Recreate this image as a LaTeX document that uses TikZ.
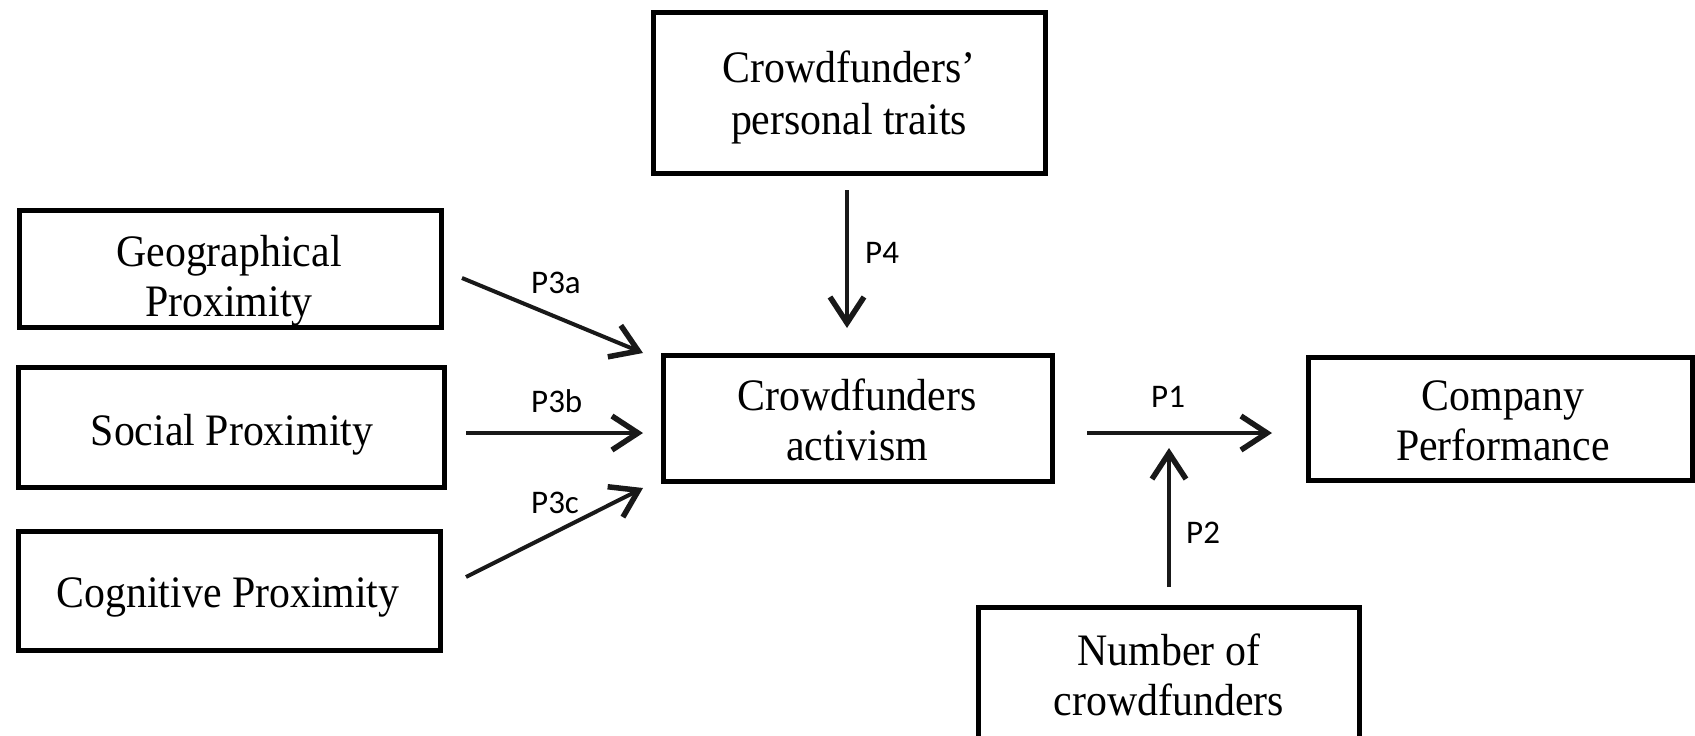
\documentclass[tikz,border=0pt]{standalone}
\usepackage{fontspec}
\setmainfont{Liberation Serif}[FakeStretch=0.93]
\newfontfamily\labfont{Carlito}
\usetikzlibrary{arrows.meta,calc}
\begin{document}
\begin{tikzpicture}[x=1pt,y=-1pt,
  box/.style={draw=black,line width=5pt,rectangle,outer sep=0pt,inner sep=0pt,fill=white},
  txt/.style={font=\fontsize{45}{50}\selectfont,align=center,inner sep=0pt},
  lab/.style={font=\labfont\fontsize{33}{36}\selectfont,inner sep=0pt,anchor=base west},
  arr/.style={line width=4pt,draw=black!90,-{Straight Barb[length=26pt,width=34pt,line width=5.5pt]}}]
\useasboundingbox (0,0) rectangle (1695,736);
\clip (0,0) rectangle (1695,736);
% boxes
\node[box,minimum width=422pt,minimum height=117pt] (geo) at (230,268.5) {};
\node[box,minimum width=426pt,minimum height=120pt] (soc) at (231,427) {};
\node[box,minimum width=422pt,minimum height=119pt] (cog) at (229,590.5) {};
\node[box,minimum width=392pt,minimum height=161pt] (traits) at (849,92.5) {};
\node[box,minimum width=389pt,minimum height=126pt] (act) at (857.5,418) {};
\node[box,minimum width=384pt,minimum height=123pt] (perf) at (1500,418.5) {};
\node[box,minimum width=381pt,minimum height=153pt] (num) at (1168.5,683.5) {};
% texts
\node[txt] (geot) at (229,281) {\strut Geographical\\\strut Proximity};
\node[txt] (soct) at (232,435) {\strut Social Proximity};
\node[txt] (cogt) at (228,597) {\strut Cognitive Proximity};
\node[txt,font=\fontsize{45}{52}\selectfont] (traitst) at (849,98) {\strut Crowdfunders'\\\strut personal traits};
\node[txt] (actt) at (857,425) {\strut Crowdfunders\\\strut activism};
\node[txt] (perft) at (1503,425) {\strut Company\\\strut Performance};
\node[txt] (numt) at (1169,680) {\strut Number of\\\strut crowdfunders};
% connectors
\draw[arr] ($(geo.east)+(21,9.5)$) -- ($(act.west)+(-20,-65)$);
\draw[arr] ($(soc.east)+(22,6)$) -- ($(act.west)+(-20,15)$);
\draw[arr] ($(cog.east)+(26,-13.5)$) -- ($(act.west)+(-20,70)$);
\draw[arr] ($(traits.south)+(-2,17)$) -- ($(act.north)+(-10.5,-27)$);
\draw[arr] ($(act.east)+(35,15)$) -- ($(perf.west)+(-36,14.5)$);
\draw[arr] ($(num.north)+(0.5,-20)$) -- ($(num.north)+(0.5,-159)$);
% labels
\node[lab] (l3a) at (531,293) {P3a};
\node[lab] (l3b) at (531,412) {P3b};
\node[lab] (l3c) at (531,513) {P3c};
\node[lab] (l4) at (865,263) {P4};
\node[lab] (l1) at (1151,407) {P1};
\node[lab] (l2) at (1186,543) {P2};
\end{tikzpicture}
\end{document}
